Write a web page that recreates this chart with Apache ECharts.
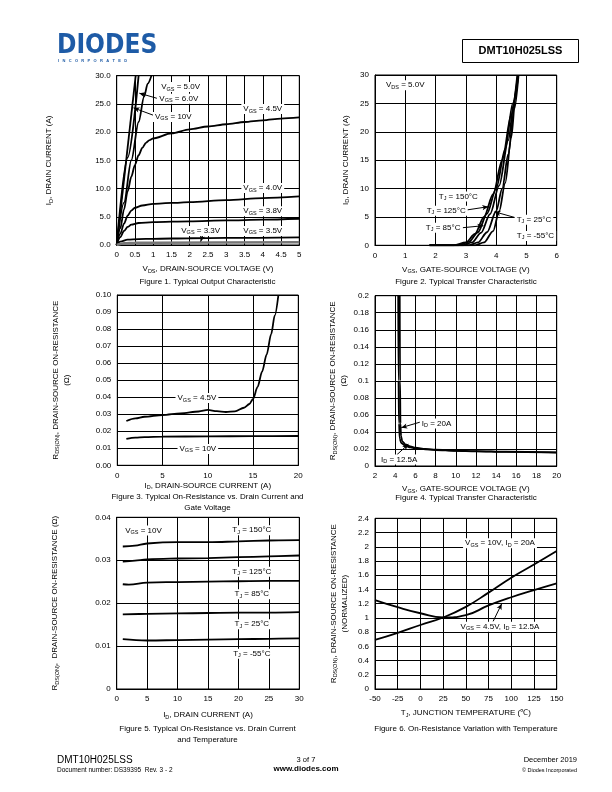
<!DOCTYPE html>
<html><head><meta charset="utf-8">
<script src="https://cdn.jsdelivr.net/npm/echarts@6/dist/echarts.min.js"></script>
<style>html,body{margin:0;padding:0;background:#fff}#c{width:612px;height:792px}</style>
</head><body><div id="c"></div>
<script>
// ---------- DATA ----------
// Figure 1: ID vs VDS, [VDS, ID]
const f1_vgs10 = [[0,0],[0.52,30]];
const f1_vgs6  = [[0,0],[0.3,15.5],[0.6,30]];
const f1_vgs5  = [[0,0],[0.2,7.5],[0.4,15],[0.6,21.8],[0.75,26.3],[0.85,28.6],[0.95,30]];
const f1_vgs45 = [[0,0],[0.1,3],[0.2,6.3],[0.3,9.5],[0.4,12.1],[0.5,14.2],[0.6,15.9],[0.7,17.2],[0.8,18.1],[0.9,18.6],[1.0,18.9],[1.5,19.8],[2,20.5],[2.5,21],[3,21.4],[3.5,21.8],[4,22.1],[4.5,22.4],[5,22.6]];
const f1_vgs40 = [[0,0],[0.1,2],[0.2,3.8],[0.3,5.2],[0.4,6.1],[0.5,6.6],[0.7,7.0],[1,7.3],[1.5,7.45],[2,7.6],[3,7.95],[4,8.3],[5,8.6]];
const f1_vgs38 = [[0,0],[0.1,1.4],[0.2,2.5],[0.3,3.2],[0.4,3.6],[0.6,3.9],[1,4.05],[2,4.2],[3,4.35],[4,4.5],[5,4.65]];
const f1_vgs35 = [[0,0],[0.1,0.6],[0.3,0.95],[0.6,1.05],[1,1.1],[2,1.2],[3,1.25],[5,1.35]];
const f1_vgs33 = [[0,0],[0.2,0.3],[0.5,0.4],[1,0.42],[5,0.5]];
// Figure 2: ID vs VGS, [VGS, ID]
const f2_t150 = [[1.8,0],[2.6,0],[3.0,0.5],[3.3,2],[3.6,5],[3.9,9],[4.2,15],[4.5,23],[4.7,30]];
const f2_t125 = [[1.8,0],[2.75,0],[3.1,0.6],[3.4,2.3],[3.7,5.6],[4.0,10],[4.3,17],[4.55,25],[4.72,30]];
const f2_t85  = [[1.8,0],[2.9,0],[3.2,0.5],[3.5,2.2],[3.8,5.5],[4.1,10.5],[4.4,18.5],[4.6,25.5],[4.73,30]];
const f2_t25  = [[1.8,0],[3.1,0],[3.4,0.5],[3.7,2.3],[4.0,6],[4.2,10],[4.4,16],[4.6,24],[4.74,30]];
const f2_tm55 = [[1.8,0],[3.3,0],[3.6,0.5],[3.9,2.5],[4.1,6],[4.3,11],[4.5,19],[4.65,27],[4.72,30]];
// Figure 3: RDS(ON) vs ID, [ID, R]
const f3_vgs45 = [[1,0.026],[2,0.0275],[3,0.0285],[5,0.0295],[7,0.0305],[9,0.0316],[10,0.0325],[11,0.0318],[12,0.0313],[13,0.0317],[14,0.0338],[14.6,0.036],[15,0.039],[15.5,0.046],[16,0.055],[16.5,0.065],[17,0.077],[17.4,0.088],[17.8,0.1]];
const f3_vgs10 = [[1,0.0155],[2,0.0163],[3,0.0166],[5,0.0168],[10,0.017],[15,0.0171],[20,0.0172]];
// Figure 4: RDS(ON) vs VGS, [VGS, R]
const f4_id20  = [[4.45,0.2],[4.48,0.1],[4.52,0.05],[4.58,0.035],[4.7,0.029],[5,0.0255],[5.5,0.023],[6,0.0215],[7,0.02],[8,0.0192],[10,0.0182],[12,0.0175],[15,0.0168],[20,0.016]];
const f4_id125 = [[4.3,0.2],[4.33,0.1],[4.38,0.05],[4.45,0.032],[4.6,0.027],[5,0.0238],[5.5,0.0218],[6,0.0205],[7,0.0195],[8,0.0188],[10,0.0178],[12,0.0172],[15,0.0165],[20,0.0158]];
// Figure 5: RDS(ON) vs ID and temperature, [ID, R]
const f5_t150 = [[1,0.0332],[3,0.0334],[5,0.0339],[10,0.0342],[15,0.0342],[20,0.0344],[25,0.0346],[30,0.0347]];
const f5_t125 = [[1,0.0297],[3,0.0299],[5,0.0302],[10,0.0304],[15,0.0305],[20,0.0307],[25,0.0309],[30,0.0311]];
const f5_t85  = [[1,0.0244],[2,0.0243],[5,0.0248],[10,0.0249],[15,0.025],[20,0.0251],[25,0.0252],[30,0.0252]];
const f5_t25  = [[1,0.0174],[5,0.0175],[10,0.0176],[15,0.0177],[20,0.0178],[25,0.0178],[30,0.0179]];
const f5_tm55 = [[1,0.0116],[5,0.0113],[10,0.0114],[15,0.0115],[20,0.0116],[25,0.0117],[30,0.0118]];
// Figure 6: normalized RDS(ON) vs TJ, [TJ, R]
const f6_vgs10 = [[-50,0.69],[-25,0.79],[0,0.9],[25,1.005],[50,1.155],[75,1.355],[100,1.565],[125,1.75],[150,1.94]];
const f6_vgs45 = [[-50,1.25],[-25,1.15],[0,1.065],[25,1.005],[50,1.04],[75,1.175],[100,1.29],[125,1.39],[150,1.485]];

// ---------- TEXT / LABELS ----------
const S = (m, s, r) => `{v|${m}}{s|${s}}{v|${r}}`;
const xNames = [S('V','DS',', DRAIN-SOURCE VOLTAGE (V)'), S('V','GS',', GATE-SOURCE VOLTAGE (V)'),
  S('I','D',', DRAIN-SOURCE CURRENT (A)'), S('V','GS',', GATE-SOURCE VOLTAGE (V)'),
  S('I','D',', DRAIN CURRENT (A)'), S('T','J',', JUNCTION TEMPERATURE (℃)')];
const yNames = [S('I','D',', DRAIN CURRENT (A)'), S('I','D',', DRAIN CURRENT (A)'),
  S('R','DS(ON)',', DRAIN-SOURCE ON-RESISTANCE')+'\n{v|(Ω)}',
  S('R','DS(ON)',', DRAIN-SOURCE ON-RESISTANCE')+'\n{v|(Ω)}',
  S('R','DS(ON)',',  DRAIN-SOURCE ON-RESISTANCE (Ω)'),
  S('R','DS(ON)',', DRAIN-SOURCE ON-RESISTANCE')+'\n{v|(NORMALIZED)}'];
const captions = [
  ['Figure 1. Typical Output Characteristic'],
  ['Figure 2. Typical Transfer Characteristic'],
  ['Figure 3. Typical On-Resistance vs. Drain Current and','Gate Voltage'],
  ['Figure 4. Typical Transfer Characteristic'],
  ['Figure 5. Typical On-Resistance vs. Drain Current','and Temperature'],
  ['Figure 6. On-Resistance Variation with Temperature']];

// annotations: [chart, x, y, text]
const notes = [
  [0,1.75,28.0,S('V','GS',' = 5.0V')],[0,1.7,25.9,S('V','GS',' = 6.0V')],[0,1.55,22.7,S('V','GS',' = 10V')],
  [0,4.0,24.1,S('V','GS',' = 4.5V')],[0,4.0,10.1,S('V','GS',' = 4.0V')],[0,4.0,6.0,S('V','GS',' = 3.8V')],
  [0,4.0,2.5,S('V','GS',' = 3.5V')],[0,2.3,2.5,S('V','GS',' = 3.3V')],
  [1,1.0,28.2,S('V','DS',' = 5.0V')],[1,2.75,8.6,S('T','J',' = 150°C')],[1,2.35,6.1,S('T','J',' = 125°C')],
  [1,2.25,3.1,S('T','J',' = 85°C')],[1,5.25,4.5,S('T','J',' = 25°C')],[1,5.3,1.65,S('T','J',' = -55°C')],
  [2,8.8,0.0395,S('V','GS',' = 4.5V')],[2,8.9,0.0096,S('V','GS',' = 10V')],
  [3,8.1,0.050,S('I','D',' = 20A')],[3,4.4,0.0075,S('I','D',' = 12.5A')],
  [4,4.4,0.0369,S('V','GS',' = 10V')],[4,22.2,0.037,S('T','J',' = 150°C')],[4,22.2,0.0273,S('T','J',' = 125°C')],
  [4,22.2,0.0221,S('T','J',' = 85°C')],[4,22.2,0.0151,S('T','J',' = 25°C')],[4,22.2,0.0082,S('T','J',' = -55°C')],
  [5,87.6,2.05,S('V','GS',' = 10V, I')+'{s|D}{v| = 20A}'],[5,87.6,0.876,S('V','GS',' = 4.5V, I')+'{s|D}{v| = 12.5A}']];
// arrows: [chart, fromX, fromY, toX, toY]
const arrows = [
  [0,1.1,26.0,0.62,26.9],[0,1.0,23.0,0.46,24.3],[0,2.38,2.2,2.3,0.6],
  [1,3.0,6.2,3.74,6.8],[1,2.9,3.1,3.58,3.45],[1,4.75,4.7,3.95,5.9],
  [3,6.6,0.052,4.6,0.045],[3,4.15,0.013,5.3,0.0255],
  [5,80,0.95,89.5,1.2]];

// ---------- LAYOUT ----------
const FONT = '"Liberation Sans", Arial, sans-serif';
const grids = [
  {left:116.7, top:75.7, width:182.6, height:169.3},
  {left:375, top:75, width:181.7, height:170.3},
  {left:117.3, top:295, width:181, height:170.3},
  {left:375, top:295.7, width:181.7, height:170.3},
  {left:116.7, top:517.3, width:182.6, height:171.7},
  {left:375, top:518.3, width:181.7, height:170.7}];
const xr = [[0,5,0.5],[0,6,1],[0,20,5],[2,20,2],[0,30,5],[-50,150,25]];
const yr = [[0,30,5],[0,30,5],[0,0.1,0.01],[0,0.2,0.02],[0,0.04,0.01],[0,2.4,0.2]];
const yFmt = [v=>v.toFixed(1), null, v=>v.toFixed(2), null, null, null];
const xGap = [19,19,15,18,21,19];
const yGap = [62,24,45,24,56,25];
const smoothCfg = [[0.3,'x'],[0.3,'x'],[0.3,'x'],[0.3,'x'],[0.4,null],[0.5,null]];
const rich = {v:{fontSize:8,fontFamily:FONT,color:'#000'}, s:{fontSize:5.5,fontFamily:FONT,color:'#000',padding:[4,0,0,0]}};

const option = {animation:false, grid:[], xAxis:[], yAxis:[], series:[], graphic:[]};
grids.forEach((g,i)=>{
  option.grid.push(Object.assign({show:true, borderColor:'#000', borderWidth:1, containLabel:false}, g));
  const axCommon = {type:'value', axisLine:{show:true,lineStyle:{color:'#000',width:1}}, axisTick:{show:false},
    splitLine:{show:true,lineStyle:{color:'#000',width:1}}, nameLocation:'middle', gridIndex:i};
  option.xAxis.push(Object.assign({}, axCommon, {min:xr[i][0], max:xr[i][1], interval:xr[i][2],
    axisLabel:{color:'#000',fontSize:8,fontFamily:FONT,margin:6}, name:xNames[i], nameGap:xGap[i],
    nameTextStyle:{rich:rich}}));
  const yl = {color:'#000',fontSize:8,fontFamily:FONT,margin:6};
  if (yFmt[i]) yl.formatter = yFmt[i];
  option.yAxis.push(Object.assign({}, axCommon, {min:yr[i][0], max:yr[i][1], interval:yr[i][2],
    axisLabel:yl, name:yNames[i], nameGap:yGap[i], nameRotate:90, nameTextStyle:{rich:rich, lineHeight:11}}));
});
const curves = [
  [0,f1_vgs10],[0,f1_vgs6],[0,f1_vgs5],[0,f1_vgs45],[0,f1_vgs40],[0,f1_vgs38],[0,f1_vgs35],[0,f1_vgs33,'#777'],
  [1,f2_t150],[1,f2_t125],[1,f2_t85],[1,f2_t25],[1,f2_tm55],
  [2,f3_vgs45],[2,f3_vgs10],[3,f4_id20],[3,f4_id125],
  [4,f5_t150],[4,f5_t125],[4,f5_t85],[4,f5_t25],[4,f5_tm55],
  [5,f6_vgs10],[5,f6_vgs45]];
curves.forEach(c=>{
  const sc = smoothCfg[c[0]];
  const s = {type:'line', xAxisIndex:c[0], yAxisIndex:c[0], data:c[1], showSymbol:false, symbol:'none',
    smooth:sc[0], lineStyle:{color:c[2]||'#000', width:c[2]?2.5:1.8}, z:3};
  if (sc[1]) s.smoothMonotone = sc[1];
  option.series.push(s);
});
for (let i=0;i<6;i++){
  const ns = notes.filter(n=>n[0]===i);
  const ar = arrows.filter(a=>a[0]===i);
  option.series.push({type:'scatter', xAxisIndex:i, yAxisIndex:i, symbolSize:1, itemStyle:{color:'rgba(0,0,0,0)'}, z:5,
    data: ns.map(n=>({value:[n[1],n[2]], name:n[3]})),
    labelLayout:{hideOverlap:false},
    label:{show:true, position:'inside', formatter:p=>p.name, backgroundColor:'#fff', padding:[0,2],
      rich:rich, color:'#000', opacity:1},
    markLine: ar.length ? {silent:true, symbol:['none','arrow'], symbolSize:[4,6], animation:false,
      lineStyle:{color:'#000',width:1,type:'solid'}, label:{show:false},
      data: ar.map(a=>[{coord:[a[1],a[2]]},{coord:[a[3],a[4]]}])} : undefined});
}
// captions
const capPos = [[207.5,278],[466,278],[207.5,493],[466,494],[207.5,725],[466,725]];
captions.forEach((c,i)=>{
  c.forEach((t,k)=>option.graphic.push({type:'text', x:capPos[i][0], y:capPos[i][1]+k*11,
    style:{text:t, textAlign:'center', font:'8px '+FONT, fill:'#000'}}));
});
// header / footer
option.graphic.push(
  {type:'text', x:57, y:33, style:{text:'DIODES', font:'bold 26px "DejaVu Sans Condensed", "DejaVu Sans", sans-serif', fill:'#1e5ba6'}},
  {type:'text', x:58, y:59, style:{text:'I   N   C   O   R   P   O   R   A   T   E   D', font:'bold 4px '+FONT, fill:'#1e5ba6'}},
  {type:'rect', shape:{x:462.5,y:39.5,width:116,height:23}, style:{fill:'#fff',stroke:'#000',lineWidth:1}},
  {type:'text', x:520.5, y:45, style:{text:'DMT10H025LSS', textAlign:'center', font:'bold 11px '+FONT, fill:'#000'}},
  {type:'text', x:57, y:755, style:{text:'DMT10H025LSS', font:'10px '+FONT, fill:'#000'}},
  {type:'text', x:57, y:767, style:{text:'Document number: DS39395  Rev. 3 - 2', font:'6.5px '+FONT, fill:'#000'}},
  {type:'text', x:306, y:756, style:{text:'3 of 7', textAlign:'center', font:'7.5px '+FONT, fill:'#000'}},
  {type:'text', x:306, y:765, style:{text:'www.diodes.com', textAlign:'center', font:'bold 8px '+FONT, fill:'#000'}},
  {type:'text', x:577, y:756, style:{text:'December 2019', textAlign:'right', font:'7.5px '+FONT, fill:'#000'}},
  {type:'text', x:577, y:767, style:{text:'© Diodes Incorporated', textAlign:'right', font:'5.5px '+FONT, fill:'#000'}}
);
const chart = echarts.init(document.getElementById('c'), null, {renderer:'canvas'});
chart.setOption(option);
</script></body></html>
